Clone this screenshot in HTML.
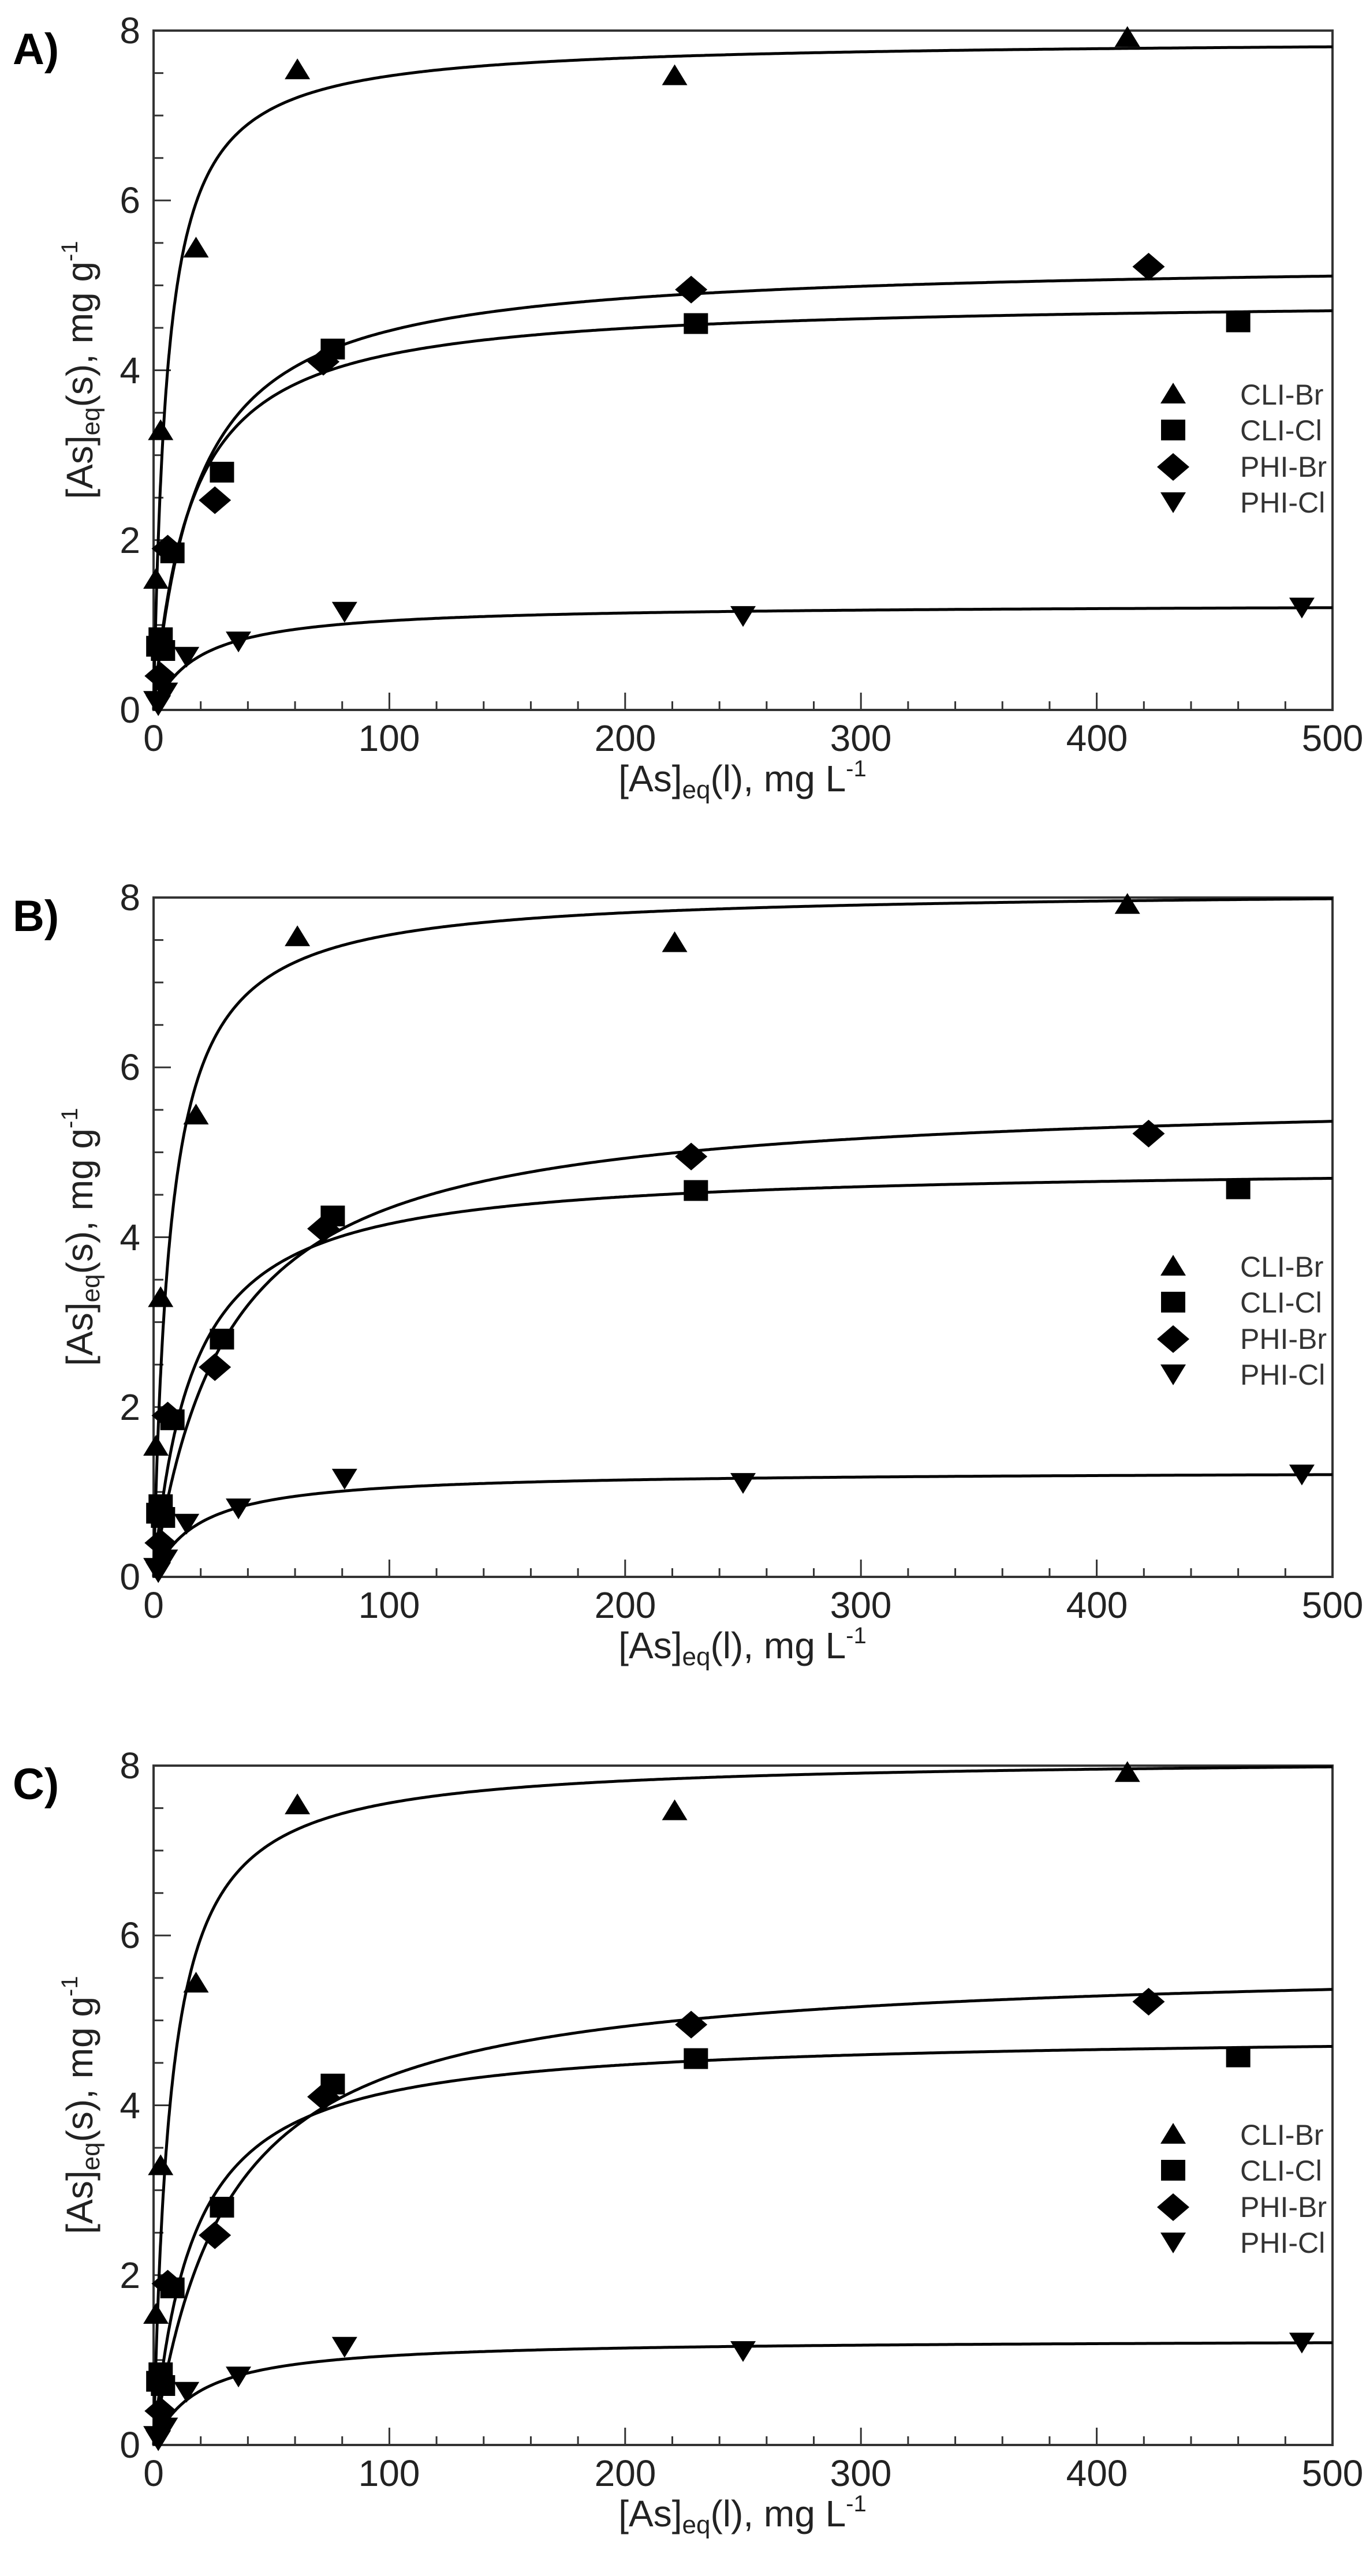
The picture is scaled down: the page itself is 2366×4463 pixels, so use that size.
<!DOCTYPE html>
<html><head><meta charset="utf-8"><style>
html,body{margin:0;padding:0;background:#fff}
svg{display:block}
text{font-family:"Liberation Sans",sans-serif;fill:#222}
.t{font-size:64px}
.lg{font-size:50px;fill:#333}
.pl{font-size:76px;font-weight:bold;fill:#000}
</style></head><body>
<svg id="s" width="2366" height="4463" viewBox="0 0 2366 4463" xmlns="http://www.w3.org/2000/svg">
<!-- Panel A -->
<g transform="translate(0,53)">
<text class="pl" x="22" y="58">A)</text>
<text class="t" x="243" y="22" text-anchor="end">8</text>
<text class="t" x="243" y="316" text-anchor="end">6</text>
<text class="t" x="243" y="611" text-anchor="end">4</text>
<text class="t" x="243" y="905" text-anchor="end">2</text>
<text class="t" x="243" y="1199" text-anchor="end">0</text>
<text class="t" x="266" y="1248" text-anchor="middle">0</text>
<text class="t" x="674" y="1248" text-anchor="middle">100</text>
<text class="t" x="1083" y="1248" text-anchor="middle">200</text>
<text class="t" x="1491" y="1248" text-anchor="middle">300</text>
<text class="t" x="1900" y="1248" text-anchor="middle">400</text>
<text class="t" x="2308" y="1248" text-anchor="middle">500</text>
<text class="t" x="1286" y="1318" text-anchor="middle">[As]<tspan font-size="44" dy="12">eq</tspan><tspan dy="-12">(l), mg L</tspan><tspan font-size="40" dy="-26">-1</tspan></text>
<text class="t" transform="translate(160,588) rotate(-90)" text-anchor="middle">[As]<tspan font-size="44" dy="12">eq</tspan><tspan dy="-12">(s), mg g</tspan><tspan font-size="40" dy="-26">-1</tspan></text>
<text class="lg" x="2148" y="648">CLI-Br</text>
<text class="lg" x="2148" y="710">CLI-Cl</text>
<text class="lg" x="2148" y="773">PHI-Br</text>
<text class="lg" x="2148" y="835">PHI-Cl</text>
<g id="pA"></g>
</g>
<!-- Panel B -->
<g transform="translate(0,1555)">
<text class="pl" x="22" y="58">B)</text>
<text class="t" x="243" y="22" text-anchor="end">8</text>
<text class="t" x="243" y="316" text-anchor="end">6</text>
<text class="t" x="243" y="611" text-anchor="end">4</text>
<text class="t" x="243" y="905" text-anchor="end">2</text>
<text class="t" x="243" y="1199" text-anchor="end">0</text>
<text class="t" x="266" y="1248" text-anchor="middle">0</text>
<text class="t" x="674" y="1248" text-anchor="middle">100</text>
<text class="t" x="1083" y="1248" text-anchor="middle">200</text>
<text class="t" x="1491" y="1248" text-anchor="middle">300</text>
<text class="t" x="1900" y="1248" text-anchor="middle">400</text>
<text class="t" x="2308" y="1248" text-anchor="middle">500</text>
<text class="t" x="1286" y="1318" text-anchor="middle">[As]<tspan font-size="44" dy="12">eq</tspan><tspan dy="-12">(l), mg L</tspan><tspan font-size="40" dy="-26">-1</tspan></text>
<text class="t" transform="translate(160,588) rotate(-90)" text-anchor="middle">[As]<tspan font-size="44" dy="12">eq</tspan><tspan dy="-12">(s), mg g</tspan><tspan font-size="40" dy="-26">-1</tspan></text>
<text class="lg" x="2148" y="657">CLI-Br</text>
<text class="lg" x="2148" y="719">CLI-Cl</text>
<text class="lg" x="2148" y="782">PHI-Br</text>
<text class="lg" x="2148" y="844">PHI-Cl</text>
<g id="pB"></g>
</g>
<!-- Panel C -->
<g transform="translate(0,3059)">
<text class="pl" x="22" y="58">C)</text>
<text class="t" x="243" y="22" text-anchor="end">8</text>
<text class="t" x="243" y="316" text-anchor="end">6</text>
<text class="t" x="243" y="611" text-anchor="end">4</text>
<text class="t" x="243" y="905" text-anchor="end">2</text>
<text class="t" x="243" y="1199" text-anchor="end">0</text>
<text class="t" x="266" y="1248" text-anchor="middle">0</text>
<text class="t" x="674" y="1248" text-anchor="middle">100</text>
<text class="t" x="1083" y="1248" text-anchor="middle">200</text>
<text class="t" x="1491" y="1248" text-anchor="middle">300</text>
<text class="t" x="1900" y="1248" text-anchor="middle">400</text>
<text class="t" x="2308" y="1248" text-anchor="middle">500</text>
<text class="t" x="1286" y="1318" text-anchor="middle">[As]<tspan font-size="44" dy="12">eq</tspan><tspan dy="-12">(l), mg L</tspan><tspan font-size="40" dy="-26">-1</tspan></text>
<text class="t" transform="translate(160,588) rotate(-90)" text-anchor="middle">[As]<tspan font-size="44" dy="12">eq</tspan><tspan dy="-12">(s), mg g</tspan><tspan font-size="40" dy="-26">-1</tspan></text>
<text class="lg" x="2148" y="657">CLI-Br</text>
<text class="lg" x="2148" y="719">CLI-Cl</text>
<text class="lg" x="2148" y="782">PHI-Br</text>
<text class="lg" x="2148" y="844">PHI-Cl</text>
<g id="pC"></g>
</g>
</svg>
<script>
(function(){
var NS="http://www.w3.org/2000/svg";
var L=266,R=2308,H=1177;
function X(v){return L+v*(R-L)/500;}
function Y(q){return H-q*H/8;}
function el(p,n,a){var e=document.createElementNS(NS,n);for(var k in a)e.setAttribute(k,a[k]);p.appendChild(e);return e;}
function tri(g,x,y,up){var w=22,h=18;var d=up?("M"+(x-w)+","+(y+h)+"L"+x+","+(y-h)+"L"+(x+w)+","+(y+h)+"Z"):("M"+(x-w)+","+(y-h)+"L"+x+","+(y+h)+"L"+(x+w)+","+(y-h)+"Z");el(g,"path",{d:d,fill:"#000"});}
function sq(g,x,y){el(g,"rect",{x:x-21,y:y-18,width:42,height:36,fill:"#000"});}
function dia(g,x,y){el(g,"path",{d:"M"+(x-28)+","+y+"L"+x+","+(y-24)+"L"+(x+28)+","+y+"L"+x+","+(y+24)+"Z",fill:"#000"});}
var tb=[[1,1.55],[3,3.3],[18,5.45],[61,7.55],[221,7.48],[413,7.93]];
var sqd=[[2,0.75],[4,0.7],[3,0.85],[8,1.85],[29,2.8],[76,4.25],[230,4.55],[460,4.57]];
var dd=[[3,0.4],[6,1.9],[26,2.47],[72,4.1],[228,4.95],[422,5.22]];
var td=[[1,0.1],[2,0.05],[5,0.2],[14,0.62],[36,0.8],[81,1.15],[250,1.1],[487,1.2]];
function draw(id,fits,ly){
 var g=document.getElementById(id);
 el(g,"rect",{x:L,y:0,width:R-L,height:H,fill:"none",stroke:"#333","stroke-width":4});
 for(var v=0;v<=500;v+=20){var maj=v%100==0;if(v==0||v==500)continue;el(g,"line",{x1:X(v),x2:X(v),y1:H,y2:H-(maj?30:15),stroke:"#333","stroke-width":3});}
 for(var q=0.5;q<8;q+=0.5){var maj=Math.abs(q-Math.round(q/2)*2)<1e-6;el(g,"line",{x1:L,x2:L+(maj?30:17),y1:Y(q),y2:Y(q),stroke:"#333","stroke-width":3});}
 fits.forEach(function(f){var d="";for(var i=0;i<=600;i++){var c=i<100?i*0.1:(10+(i-100)*0.98);if(c>500)c=500;var qv=f[0]*f[1]*c/(1+f[1]*c);d+=(i?"L":"M")+X(c).toFixed(1)+","+Y(qv).toFixed(1);}
  el(g,"path",{d:d,fill:"none",stroke:"#000","stroke-width":5,"stroke-linejoin":"round"});});
 tb.forEach(function(p){tri(g,X(p[0]),Y(p[1]),true);});
 sqd.forEach(function(p){sq(g,X(p[0]),Y(p[1]));});
 dd.forEach(function(p){dia(g,X(p[0]),Y(p[1]));});
 td.forEach(function(p){tri(g,X(p[0]),Y(p[1]),false);});
 var mx=2032;
 tri(g,mx,ly,true);sq(g,mx,ly+64);dia(g,mx,ly+128);tri(g,mx,ly+190,false);
}
draw("pA",[[7.9,0.172],[4.85,0.063],[5.3,0.0535],[1.25,0.0525]],628);
draw("pB",[[8.1,0.14],[4.85,0.06],[5.7,0.032],[1.25,0.0525]],637);
draw("pC",[[8.1,0.14],[4.85,0.06],[5.7,0.032],[1.25,0.0525]],637);
})();
</script>
</body></html>
